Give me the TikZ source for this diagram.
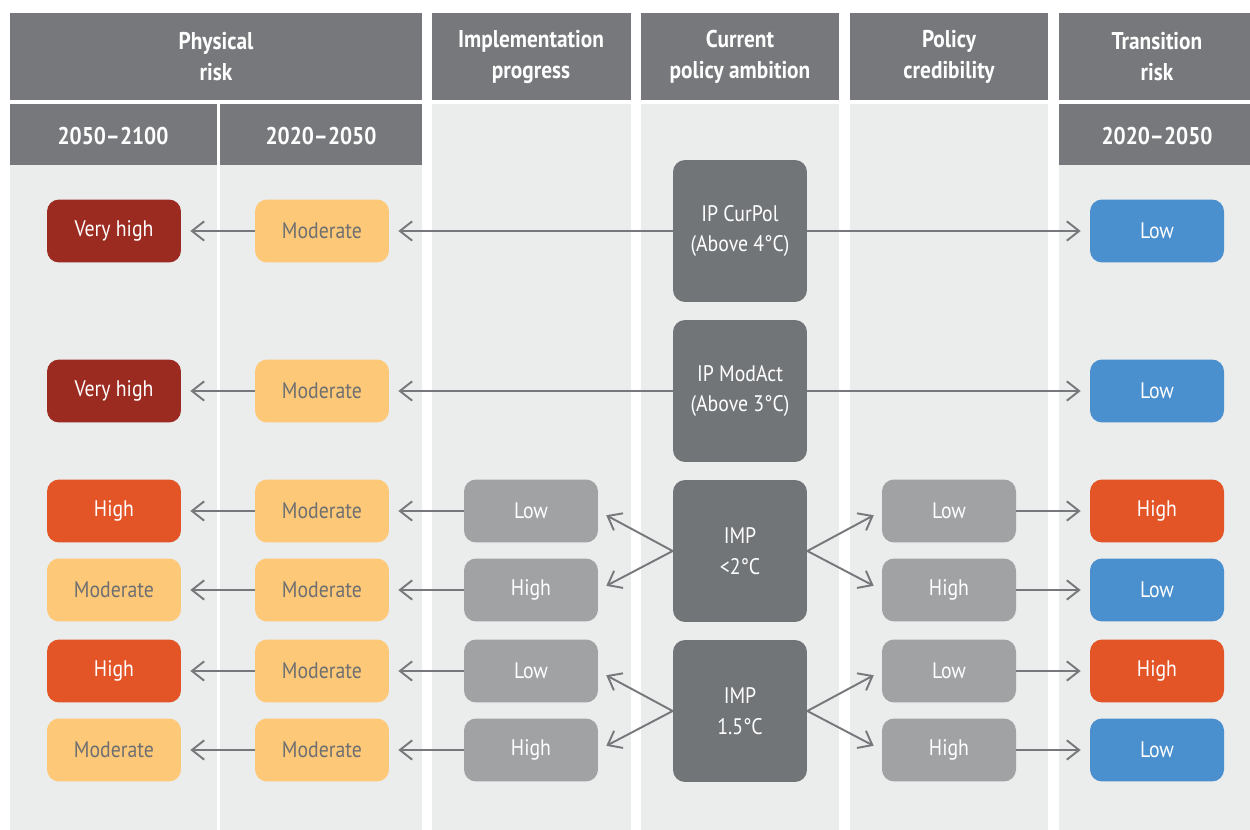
\documentclass[tikz,border=0pt]{standalone}
\usepackage{fontspec}
\setmainfont{PT Sans}[FakeStretch=0.88]
\usetikzlibrary{arrows.meta}
\definecolor{headgrey}{HTML}{76787B}
\definecolor{bggrey}{HTML}{EBECEC}
\definecolor{boxgrey}{HTML}{A1A2A4}
\definecolor{darkbox}{HTML}{727578}
\definecolor{veryhigh}{HTML}{9B2B20}
\definecolor{highrisk}{HTML}{E35426}
\definecolor{moderate}{HTML}{FDC878}
\definecolor{lowrisk}{HTML}{4A8FCE}
\definecolor{modtext}{HTML}{6E6F71}
\begin{document}
\begin{tikzpicture}[x=0.02cm,y=-0.02cm,
  headtext/.style={text=white,font=\bfseries\fontsize{13.8}{17.6}\selectfont,align=center,inner sep=0pt},
  riskbox/.style={rounded corners=0.24cm,minimum width=2.68cm,minimum height=1.26cm,inner sep=0pt,
    font=\fontsize{12.8}{17.6}\selectfont,text=white},
  vhigh/.style={riskbox,fill=veryhigh},
  high/.style={riskbox,fill=highrisk},
  mod/.style={riskbox,fill=moderate,text=modtext},
  low/.style={riskbox,fill=lowrisk},
  grade/.style={riskbox,fill=boxgrey},
  scen/.style={riskbox,fill=darkbox,minimum height=2.84cm,align=center},
  arr/.style={draw=headgrey,line width=1.1pt,-{Straight Barb[length=7pt,width=11pt]},shorten >=0.18cm}]

\useasboundingbox (0,0) rectangle (1250,830);
\fill[white] (0,0) rectangle (1250,830);

\fill[bggrey] (10,165) rectangle (217,830);
\fill[bggrey] (220,165) rectangle (422,830);
\fill[bggrey] (432,104) rectangle (631,830);
\fill[bggrey] (641,104) rectangle (839,830);
\fill[bggrey] (850,104) rectangle (1048,830);
\fill[bggrey] (1059,165) rectangle (1250,830);

\fill[headgrey] (10,13) rectangle (422,100);
\fill[headgrey] (432,13) rectangle (631,100);
\fill[headgrey] (641,13) rectangle (839,100);
\fill[headgrey] (850,13) rectangle (1048,100);
\fill[headgrey] (1059,13) rectangle (1250,100);
\fill[headgrey] (10,104) rectangle (217,165);
\fill[headgrey] (220,104) rectangle (422,165);
\fill[headgrey] (1059,104) rectangle (1250,165);

\node[headtext] (hphys) at (216,57) {Physical\\risk};
\node[headtext] (himpl) at (531,57) {Implementation\\progress};
\node[headtext] (hcur) at (740,57) {Current\\policy ambition};
\node[headtext] (hcred) at (949,57) {Policy\\credibility};
\node[headtext] (htrans) at (1157,57) {Transition\\risk};
\node[headtext] (hlate) at (113,136) {2050--2100};
\node[headtext] (hnear) at (321,136) {2020--2050};
\node[headtext] (htnear) at (1157,136) {2020--2050};

\node[scen] (curpol) at (740,231) {IP CurPol\\(Above 4°C)};
\node[scen] (modact) at (740,391) {IP ModAct\\(Above 3°C)};
\node[scen] (imptwo) at (740,551) {IMP\\<2°C};
\node[scen] (imponefive) at (740,711) {IMP\\1.5°C};

\node[vhigh] (pa1) at (114,231) {Very high};
\node[vhigh] (pa2) at (114,391) {Very high};
\node[high] (pa3) at (114,511) {High};
\node[mod] (pa4) at (114,590) {Moderate};
\node[high] (pa5) at (114,671) {High};
\node[mod] (pa6) at (114,750) {Moderate};

\node[mod] (pb1) at (322,231) {Moderate};
\node[mod] (pb2) at (322,391) {Moderate};
\node[mod] (pb3) at (322,511) {Moderate};
\node[mod] (pb4) at (322,590) {Moderate};
\node[mod] (pb5) at (322,671) {Moderate};
\node[mod] (pb6) at (322,750) {Moderate};

\node[grade] (ip3) at (531,511) {Low};
\node[grade] (ip4) at (531,590) {High};
\node[grade] (ip5) at (531,671) {Low};
\node[grade] (ip6) at (531,750) {High};

\node[grade] (pc3) at (949,511) {Low};
\node[grade] (pc4) at (949,590) {High};
\node[grade] (pc5) at (949,671) {Low};
\node[grade] (pc6) at (949,750) {High};

\node[low] (tr1) at (1157,231) {Low};
\node[low] (tr2) at (1157,391) {Low};
\node[high] (tr3) at (1157,511) {High};
\node[low] (tr4) at (1157,590) {Low};
\node[high] (tr5) at (1157,671) {High};
\node[low] (tr6) at (1157,750) {Low};

\draw[arr] (curpol.west) -- (pb1.east);
\draw[arr] (curpol.east) -- (tr1.west);
\draw[arr] (modact.west) -- (pb2.east);
\draw[arr] (modact.east) -- (tr2.west);

\draw[arr] (imptwo.west) -- (ip3.east);
\draw[arr] (imptwo.west) -- (ip4.east);
\draw[arr] (imptwo.east) -- (pc3.west);
\draw[arr] (imptwo.east) -- (pc4.west);
\draw[arr] (imponefive.west) -- (ip5.east);
\draw[arr] (imponefive.west) -- (ip6.east);
\draw[arr] (imponefive.east) -- (pc5.west);
\draw[arr] (imponefive.east) -- (pc6.west);

\draw[arr] (ip3) -- (pb3);
\draw[arr] (ip4) -- (pb4);
\draw[arr] (ip5) -- (pb5);
\draw[arr] (ip6) -- (pb6);
\draw[arr] (pc3) -- (tr3);
\draw[arr] (pc4) -- (tr4);
\draw[arr] (pc5) -- (tr5);
\draw[arr] (pc6) -- (tr6);

\draw[arr] (pb1) -- (pa1);
\draw[arr] (pb2) -- (pa2);
\draw[arr] (pb3) -- (pa3);
\draw[arr] (pb4) -- (pa4);
\draw[arr] (pb5) -- (pa5);
\draw[arr] (pb6) -- (pa6);

\end{tikzpicture}
\end{document}
